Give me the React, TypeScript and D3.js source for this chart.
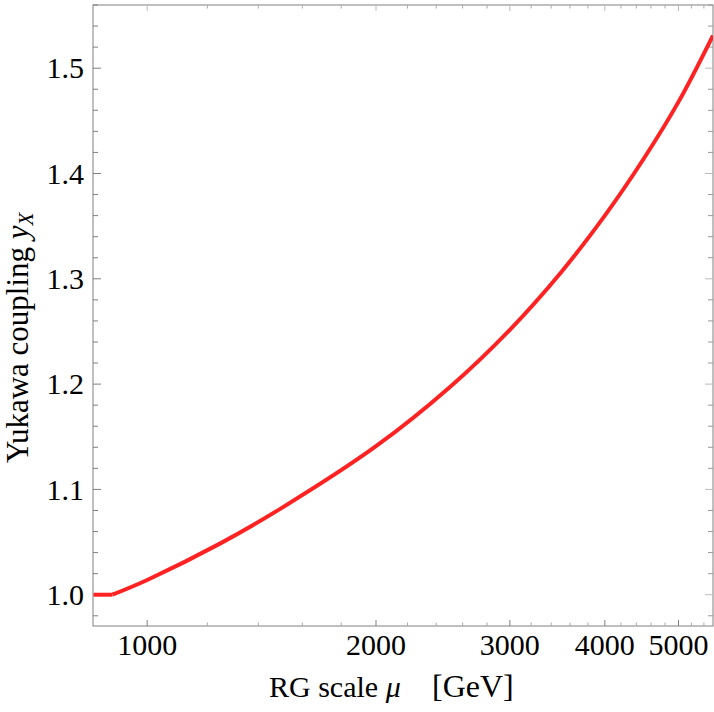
import React from 'react';
import * as d3 from 'd3';

// RG running of the Yukawa coupling
const muValues = [850, 900, 1000, 1250, 1500, 2000, 2500, 3000, 3500, 4000, 4500, 5000, 5550];
const yukawa = [1.0, 1.0, 1.014, 1.049, 1.082, 1.141, 1.197, 1.2516, 1.3058, 1.360, 1.414, 1.468, 1.531];
const threshold = 900; // coupling frozen below this scale

const xMajor = [1000, 2000, 3000, 4000, 5000];
const xMinor = d3.range(1200, 5600, 200).filter(v => v % 1000 !== 0);
const yMajor = [1.0, 1.1, 1.2, 1.3, 1.4, 1.5];
const yMinor = d3.range(0.98, 1.57, 0.02).filter(v => Math.abs(v * 10 - Math.round(v * 10)) > 1e-6);

const W = 714;
const H = 712;
const margin = { left: 93, right: 1, top: 5, bottom: 86 };
const FONT = '"Liberation Serif", "DejaVu Serif", serif';
const frameColor = '#808080';
const FS = 30;

const App = () => {
  const x = d3.scaleLog().domain([848.6, 5551]).range([margin.left, W - margin.right]);
  const y = d3.scaleLinear().domain([0.9703, 1.56]).range([H - margin.bottom, margin.top]);
  const left = margin.left, right = W - margin.right, top = margin.top, bottom = H - margin.bottom;

  const pts = muValues.map((m, i) => ({ m, v: yukawa[i] }));
  const line = d3.line<{ m: number; v: number }>().x(d => x(d.m)).y(d => y(d.v));
  const flatPath = line.curve(d3.curveLinear)(pts.filter(d => d.m <= threshold));
  const risePath = line.curve(d3.curveCatmullRom.alpha(0.5))(pts.filter(d => d.m >= threshold));

  return (
    <svg width={W} height={H} style={{ position: 'absolute', left: 0, top: 0 }} fontFamily={FONT}>
      <defs>
        <clipPath id="plot">
          <rect x={left} y={top} width={right - left} height={bottom - top} />
        </clipPath>
      </defs>
      <rect width={W} height={H} fill="white" />

      {/* frame */}
      <rect x={left} y={top} width={right - left} height={bottom - top} fill="none" stroke={frameColor} strokeWidth={1} />

      {/* x ticks, bottom and top */}
      {xMajor.map(v => (
        <g key={'xM' + v}>
          <line x1={x(v)} x2={x(v)} y1={bottom} y2={bottom - 6} stroke={frameColor} />
          <line x1={x(v)} x2={x(v)} y1={top} y2={top + 6} stroke="#bbb" />
          <text x={x(v)} y={655} textAnchor="middle" fontSize={FS}>{v}</text>
        </g>
      ))}
      {xMinor.map(v => (
        <g key={'xm' + v}>
          <line x1={x(v)} x2={x(v)} y1={bottom} y2={bottom - 3.5} stroke="#aaa" />
          <line x1={x(v)} x2={x(v)} y1={top} y2={top + 3.5} stroke="#aaa" />
        </g>
      ))}

      {/* y ticks, left and right */}
      {yMajor.map(v => (
        <g key={'yM' + v}>
          <line x1={left} x2={left + 8} y1={y(v)} y2={y(v)} stroke={frameColor} />
          <line x1={right} x2={right - 8} y1={y(v)} y2={y(v)} stroke="#bbb" />
          <text x={84} y={y(v)} dy="0.34em" textAnchor="end" fontSize={FS}>{v.toFixed(1)}</text>
        </g>
      ))}
      {yMinor.map(v => (
        <g key={'ym' + v.toFixed(2)}>
          <line x1={left} x2={left + 5} y1={y(v)} y2={y(v)} stroke={frameColor} />
          <line x1={right} x2={right - 5} y1={y(v)} y2={y(v)} stroke="#999" />
        </g>
      ))}

      {/* curve */}
      <g clipPath="url(#plot)" fill="none" stroke="#ff2222" strokeWidth={4} strokeLinejoin="round">
        <path d={flatPath || ''} />
        <path d={risePath || ''} />
      </g>

      {/* axis labels */}
      <text x={269} y={697} fontSize={FS}>
        RG scale <tspan fontStyle="italic">μ</tspan>
        <tspan x={432} fontSize={32}>[GeV]</tspan>
      </text>
      <text transform={`translate(28, 463) rotate(-90)`} fontSize={31}>
        Yukawa coupling <tspan fontStyle="italic">y</tspan>
        <tspan fontStyle="italic" fontSize={21} dy={5}>X</tspan>
      </text>
    </svg>
  );
};

export default App;
